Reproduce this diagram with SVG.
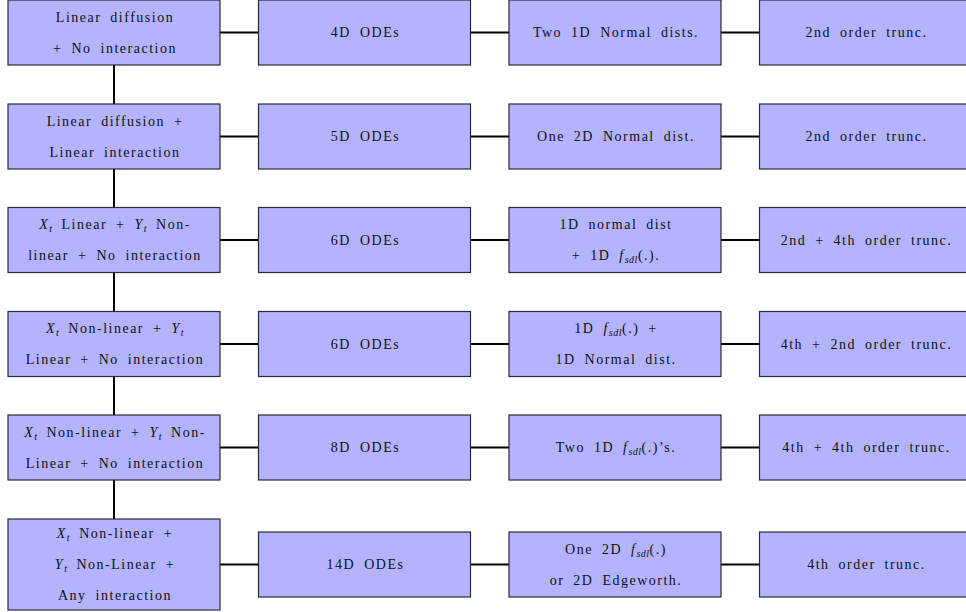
<svg xmlns="http://www.w3.org/2000/svg" width="966" height="612" viewBox="0 0 966 612">
<style>
.box{fill:#b3b3ff;stroke:#2a2a33;stroke-width:1.2}
.t{font-family:"Liberation Serif","DejaVu Serif",serif;font-size:14px;fill:#111;text-anchor:middle;letter-spacing:1.5px;word-spacing:4px}
.i{font-style:italic}
.s{font-style:italic;font-size:10px;letter-spacing:0.5px}
.c{stroke:#000;stroke-width:2;fill:none}
</style>
<rect width="966" height="612" fill="#fff"/>
<g id="connectors">
<line class="c" x1="220" y1="32.5" x2="258.5" y2="32.5"/>
<line class="c" x1="470.5" y1="32.5" x2="509" y2="32.5"/>
<line class="c" x1="721" y1="32.5" x2="759.5" y2="32.5"/>
<line class="c" x1="220" y1="136.5" x2="258.5" y2="136.5"/>
<line class="c" x1="470.5" y1="136.5" x2="509" y2="136.5"/>
<line class="c" x1="721" y1="136.5" x2="759.5" y2="136.5"/>
<line class="c" x1="220" y1="240" x2="258.5" y2="240"/>
<line class="c" x1="470.5" y1="240" x2="509" y2="240"/>
<line class="c" x1="721" y1="240" x2="759.5" y2="240"/>
<line class="c" x1="220" y1="344" x2="258.5" y2="344"/>
<line class="c" x1="470.5" y1="344" x2="509" y2="344"/>
<line class="c" x1="721" y1="344" x2="759.5" y2="344"/>
<line class="c" x1="220" y1="447.5" x2="258.5" y2="447.5"/>
<line class="c" x1="470.5" y1="447.5" x2="509" y2="447.5"/>
<line class="c" x1="721" y1="447.5" x2="759.5" y2="447.5"/>
<line class="c" x1="220" y1="564.5" x2="258.5" y2="564.5"/>
<line class="c" x1="470.5" y1="564.5" x2="509" y2="564.5"/>
<line class="c" x1="721" y1="564.5" x2="759.5" y2="564.5"/>
<line class="c" x1="114" y1="65" x2="114" y2="104"/>
<line class="c" x1="114" y1="169" x2="114" y2="207.5"/>
<line class="c" x1="114" y1="272.5" x2="114" y2="311.5"/>
<line class="c" x1="114" y1="376.5" x2="114" y2="415"/>
<line class="c" x1="114" y1="480" x2="114" y2="519"/>
</g>
<!-- Row 1 -->
<g id="r1c1"><rect class="box" x="8" y="0" width="212" height="65"/>
<text class="t" x="115" y="21.5">Linear diffusion</text>
<text class="t" x="115" y="52.5">+ No interaction</text></g>
<g id="r1c2"><rect class="box" x="258.5" y="0" width="212" height="65"/>
<text class="t" x="365.5" y="37">4D ODEs</text></g>
<g id="r1c3"><rect class="box" x="509" y="0" width="212" height="65"/>
<text class="t" x="616" y="37">Two 1D Normal dists.</text></g>
<g id="r1c4"><rect class="box" x="759.5" y="0" width="212" height="65"/>
<text class="t" x="866.5" y="37">2nd order trunc.</text></g>
<!-- Row 2 -->
<g id="r2c1"><rect class="box" x="8" y="104" width="212" height="65"/>
<text class="t" x="115" y="125.5">Linear diffusion +</text>
<text class="t" x="115" y="156.5">Linear interaction</text></g>
<g id="r2c2"><rect class="box" x="258.5" y="104" width="212" height="65"/>
<text class="t" x="365.5" y="141">5D ODEs</text></g>
<g id="r2c3"><rect class="box" x="509" y="104" width="212" height="65"/>
<text class="t" x="616" y="141">One 2D Normal dist.</text></g>
<g id="r2c4"><rect class="box" x="759.5" y="104" width="212" height="65"/>
<text class="t" x="866.5" y="141">2nd order trunc.</text></g>
<!-- Row 3 -->
<g id="r3c1"><rect class="box" x="8" y="207.5" width="212" height="65"/>
<text class="t" x="115" y="229"><tspan class="i">X</tspan><tspan class="s" dy="3">t</tspan><tspan dy="-3"> Linear + </tspan><tspan class="i">Y</tspan><tspan class="s" dy="3">t</tspan><tspan dy="-3"> Non-</tspan></text>
<text class="t" x="115" y="260">linear + No interaction</text></g>
<g id="r3c2"><rect class="box" x="258.5" y="207.5" width="212" height="65"/>
<text class="t" x="365.5" y="244.5">6D ODEs</text></g>
<g id="r3c3"><rect class="box" x="509" y="207.5" width="212" height="65"/>
<text class="t" x="616" y="229">1D normal dist</text>
<text class="t" x="616" y="260">+ 1D <tspan class="i">f</tspan><tspan class="s" dy="3">sdl</tspan><tspan dy="-3">(.).</tspan></text></g>
<g id="r3c4"><rect class="box" x="759.5" y="207.5" width="212" height="65"/>
<text class="t" x="866.5" y="244.5">2nd + 4th order trunc.</text></g>
<!-- Row 4 -->
<g id="r4c1"><rect class="box" x="8" y="311.5" width="212" height="65"/>
<text class="t" x="115" y="333"><tspan class="i">X</tspan><tspan class="s" dy="3">t</tspan><tspan dy="-3"> Non-linear + </tspan><tspan class="i">Y</tspan><tspan class="s" dy="3">t</tspan></text>
<text class="t" x="115" y="364">Linear + No interaction</text></g>
<g id="r4c2"><rect class="box" x="258.5" y="311.5" width="212" height="65"/>
<text class="t" x="365.5" y="348.5">6D ODEs</text></g>
<g id="r4c3"><rect class="box" x="509" y="311.5" width="212" height="65"/>
<text class="t" x="616" y="333">1D <tspan class="i">f</tspan><tspan class="s" dy="3">sdl</tspan><tspan dy="-3">(.) +</tspan></text>
<text class="t" x="616" y="364">1D Normal dist.</text></g>
<g id="r4c4"><rect class="box" x="759.5" y="311.5" width="212" height="65"/>
<text class="t" x="866.5" y="348.5">4th + 2nd order trunc.</text></g>
<!-- Row 5 -->
<g id="r5c1"><rect class="box" x="8" y="415" width="212" height="65"/>
<text class="t" x="115" y="436.5"><tspan class="i">X</tspan><tspan class="s" dy="3">t</tspan><tspan dy="-3"> Non-linear + </tspan><tspan class="i">Y</tspan><tspan class="s" dy="3">t</tspan><tspan dy="-3"> Non-</tspan></text>
<text class="t" x="115" y="467.5">Linear + No interaction</text></g>
<g id="r5c2"><rect class="box" x="258.5" y="415" width="212" height="65"/>
<text class="t" x="365.5" y="452">8D ODEs</text></g>
<g id="r5c3"><rect class="box" x="509" y="415" width="212" height="65"/>
<text class="t" x="616" y="452">Two 1D <tspan class="i">f</tspan><tspan class="s" dy="3">sdl</tspan><tspan dy="-3">(.)’s.</tspan></text></g>
<g id="r5c4"><rect class="box" x="759.5" y="415" width="212" height="65"/>
<text class="t" x="866.5" y="452">4th + 4th order trunc.</text></g>
<!-- Row 6 -->
<g id="r6c1"><rect class="box" x="8" y="519" width="212" height="91"/>
<text class="t" x="115" y="538"><tspan class="i">X</tspan><tspan class="s" dy="3">t</tspan><tspan dy="-3"> Non-linear +</tspan></text>
<text class="t" x="115" y="569"><tspan class="i">Y</tspan><tspan class="s" dy="3">t</tspan><tspan dy="-3"> Non-Linear +</tspan></text>
<text class="t" x="115" y="600">Any interaction</text></g>
<g id="r6c2"><rect class="box" x="258.5" y="532" width="212" height="65"/>
<text class="t" x="365.5" y="569">14D ODEs</text></g>
<g id="r6c3"><rect class="box" x="509" y="532" width="212" height="65"/>
<text class="t" x="616" y="553.5">One 2D <tspan class="i">f</tspan><tspan class="s" dy="3">sdl</tspan><tspan dy="-3">(.)</tspan></text>
<text class="t" x="616" y="584.5">or 2D Edgeworth.</text></g>
<g id="r6c4"><rect class="box" x="759.5" y="532" width="212" height="65"/>
<text class="t" x="866.5" y="569">4th order trunc.</text></g>
</svg>
